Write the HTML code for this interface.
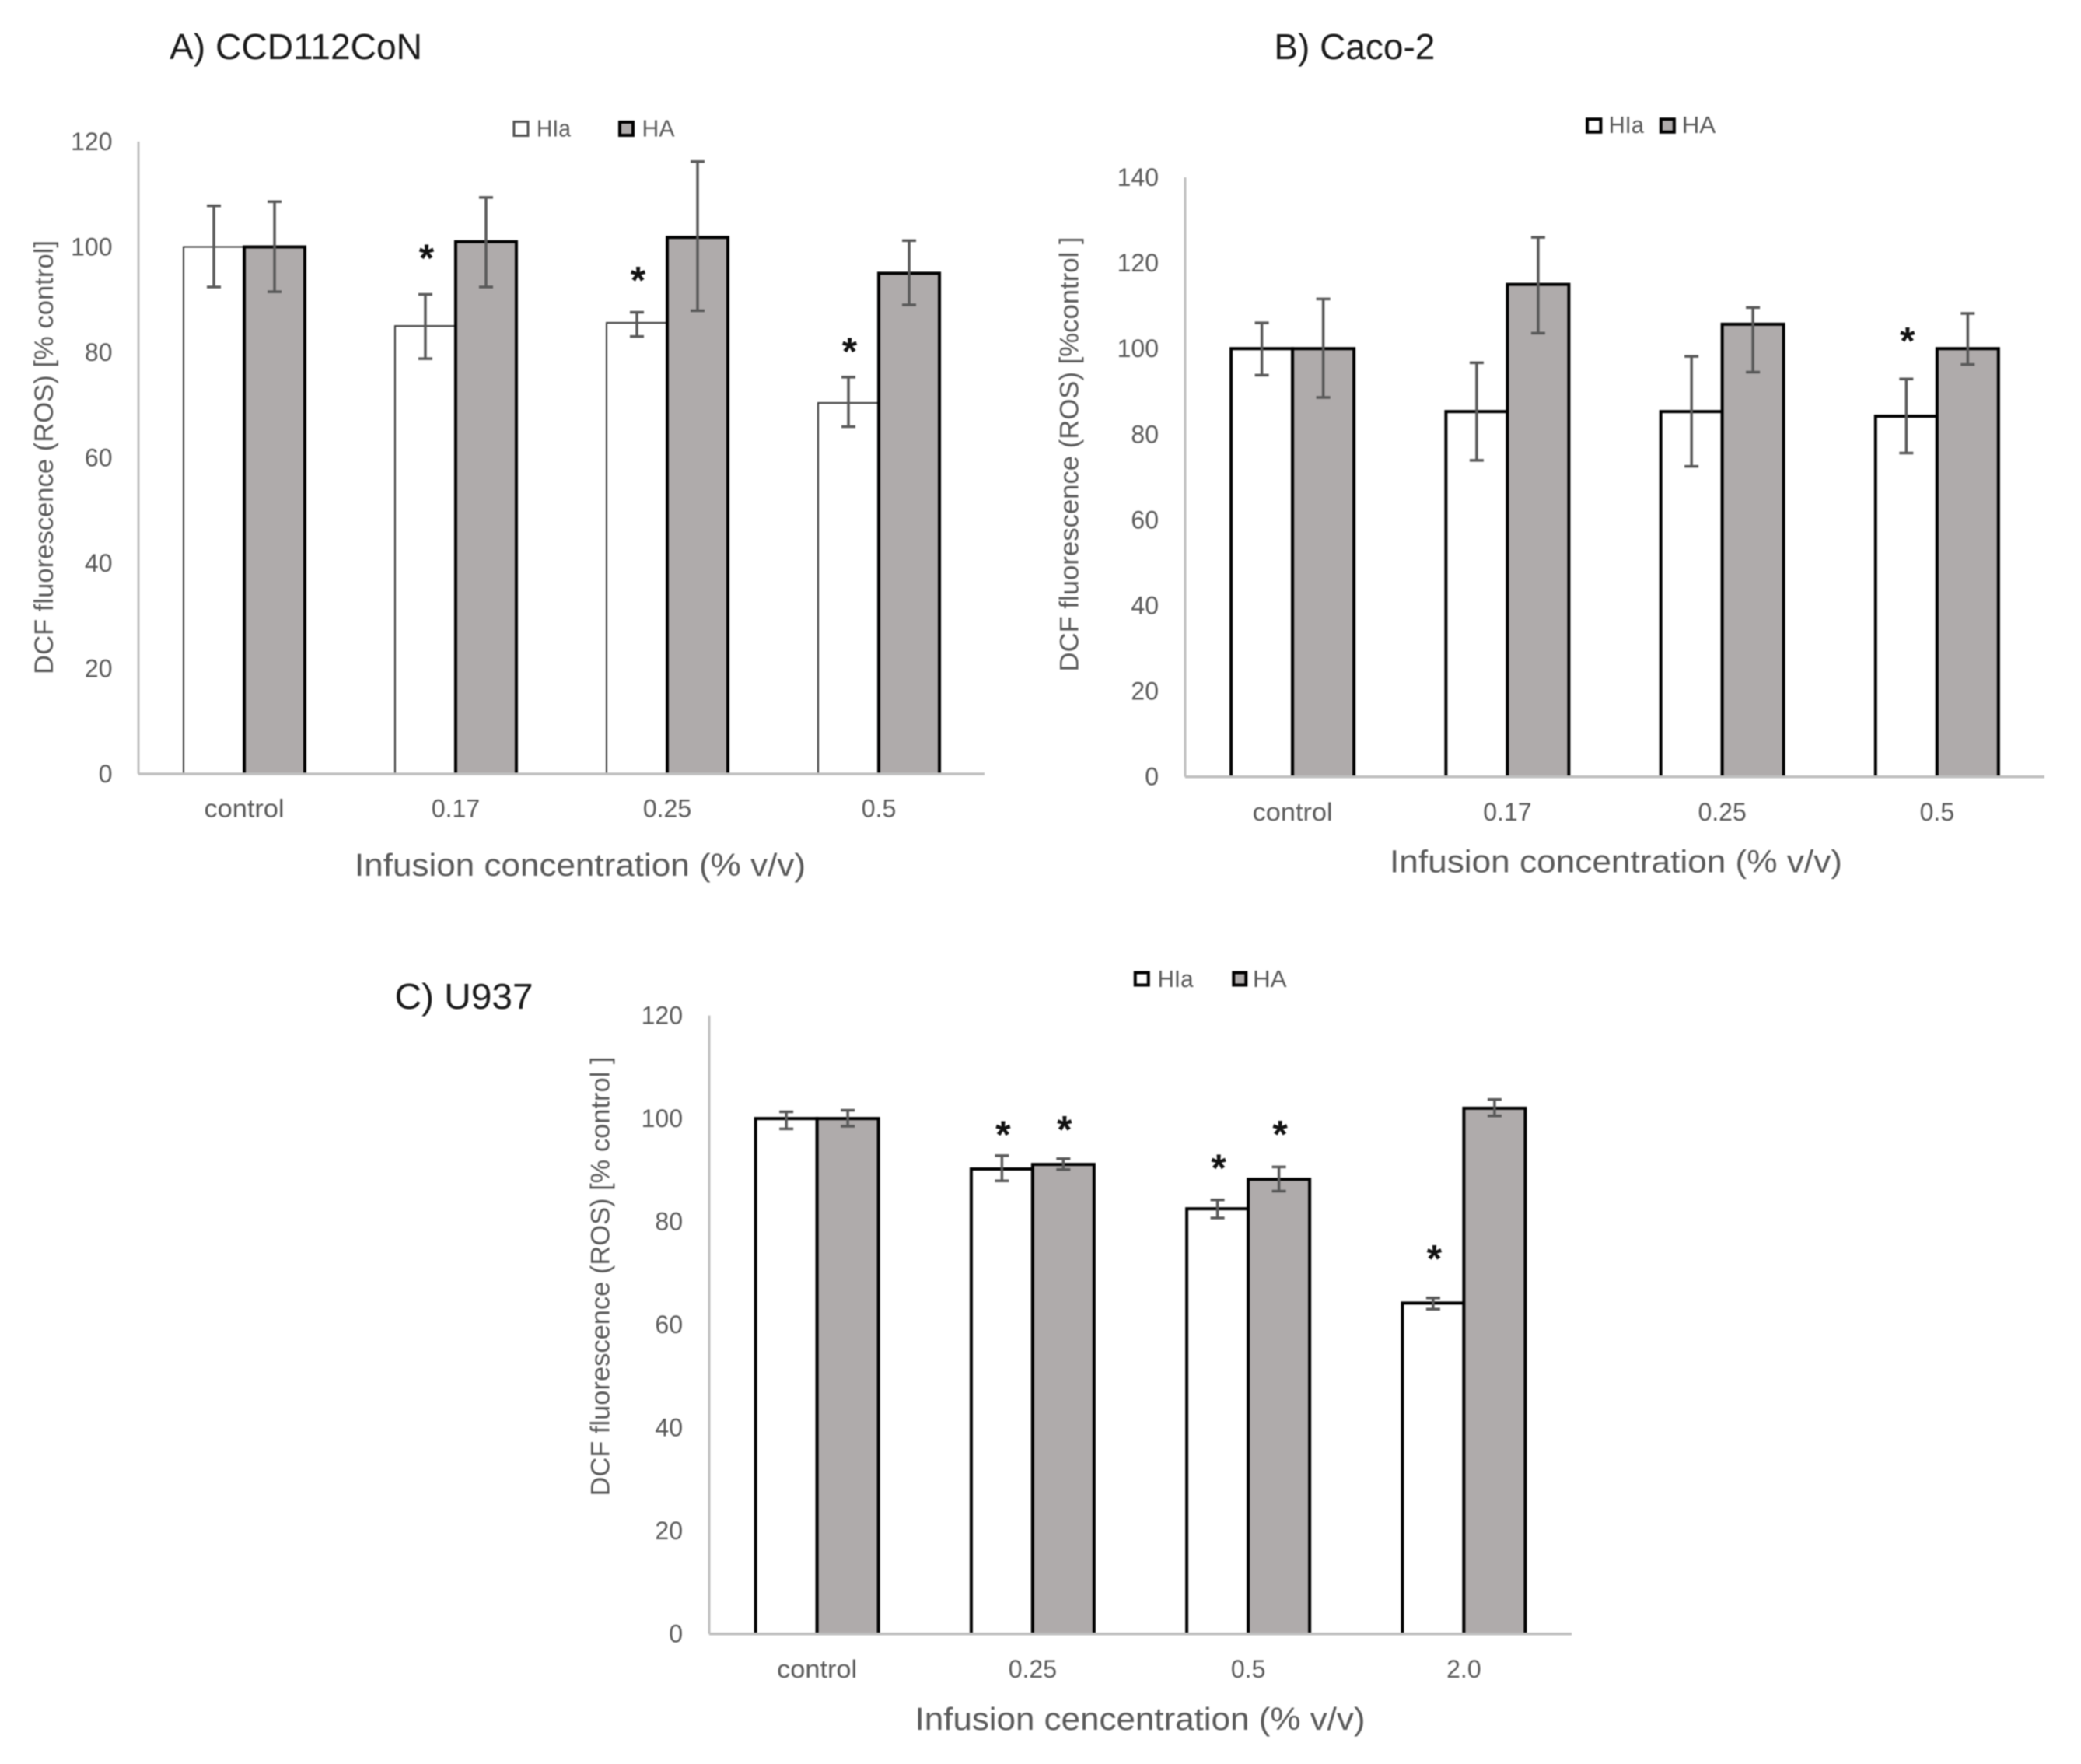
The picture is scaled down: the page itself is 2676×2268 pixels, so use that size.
<!DOCTYPE html>
<html lang="en">
<head>
<meta charset="utf-8">
<title>DCF fluorescence charts</title>
<style>
html,body{margin:0;padding:0;background:#fff;}
body{width:2676px;height:2268px;overflow:hidden;}
svg{display:block;filter:blur(0.8px);}
text{font-family:"Liberation Sans",sans-serif;fill:#595959;}
.panel-title{font-size:46px;fill:#1a1a1a;}
.axis-title{font-size:41px;}
.y-title{font-size:34px;}
.legend-text{font-size:31px;}
</style>
</head>
<body>
<svg id="figure" xmlns="http://www.w3.org/2000/svg" width="2676" height="2268" viewBox="0 0 2676 2268">
  <rect x="0" y="0" width="2676" height="2268" fill="#fff"/>

  <g id="chart-a">
    <text class="panel-title" x="218" y="76" textLength="325" lengthAdjust="spacingAndGlyphs">A) CCD112CoN</text>
    <text class="axis-title" x="746" y="1126" text-anchor="middle" textLength="580" lengthAdjust="spacingAndGlyphs">Infusion concentration (% v/v)</text>
    <text class="y-title" transform="translate(57,588) rotate(-90)" text-anchor="middle" dominant-baseline="central" textLength="558" lengthAdjust="spacingAndGlyphs">DCF fluorescence (ROS) [% control]</text>
    <g>
      <rect x="661" y="156.5" width="18" height="18" fill="#fff" stroke="#505050" stroke-width="3"/>
      <text class="legend-text" x="690" y="165" dominant-baseline="central" textLength="44" lengthAdjust="spacingAndGlyphs">HIa</text>
      <rect x="797" y="157" width="17" height="17" fill="#AFABAB" stroke="#000" stroke-width="4"/>
      <text class="legend-text" x="825.5" y="165" dominant-baseline="central" textLength="42" lengthAdjust="spacingAndGlyphs">HA</text>
    </g>
  </g>

  <g id="chart-b">
    <text class="panel-title" x="1638.4" y="76" textLength="207" lengthAdjust="spacingAndGlyphs">B) Caco-2</text>
    <text class="axis-title" x="2078" y="1121.5" text-anchor="middle" textLength="582" lengthAdjust="spacingAndGlyphs">Infusion concentration (% v/v)</text>
    <text class="y-title" transform="translate(1375.7,584) rotate(-90)" text-anchor="middle" dominant-baseline="central" textLength="559" lengthAdjust="spacingAndGlyphs">DCF fluorescence (ROS) [%control ]</text>
    <g>
      <rect x="2041" y="153.2" width="17.4" height="16.6" fill="#fff" stroke="#000" stroke-width="4"/>
      <text class="legend-text" x="2068.8" y="160.5" dominant-baseline="central" textLength="45" lengthAdjust="spacingAndGlyphs">HIa</text>
      <rect x="2135.8" y="153.2" width="17" height="16.6" fill="#AFABAB" stroke="#000" stroke-width="4"/>
      <text class="legend-text" x="2162.6" y="160.5" dominant-baseline="central" textLength="43.7" lengthAdjust="spacingAndGlyphs">HA</text>
    </g>
  </g>

  <g id="chart-c">
    <text class="panel-title" x="507.6" y="1297" textLength="178" lengthAdjust="spacingAndGlyphs">C) U937</text>
    <text class="axis-title" x="1466" y="2224" text-anchor="middle" textLength="579" lengthAdjust="spacingAndGlyphs">Infusion cencentration (% v/v)</text>
    <text class="y-title" transform="translate(772.7,1641) rotate(-90)" text-anchor="middle" dominant-baseline="central" textLength="565" lengthAdjust="spacingAndGlyphs">DCF fluorescence (ROS) [% control ]</text>
    <g>
      <rect x="1459.8" y="1250.5" width="17" height="16" fill="#fff" stroke="#000" stroke-width="4"/>
      <text class="legend-text" x="1488.6" y="1258.5" dominant-baseline="central" textLength="46" lengthAdjust="spacingAndGlyphs">HIa</text>
      <rect x="1586.3" y="1250.5" width="16" height="16" fill="#AFABAB" stroke="#000" stroke-width="4"/>
      <text class="legend-text" x="1611" y="1258.5" dominant-baseline="central" textLength="43.6" lengthAdjust="spacingAndGlyphs">HA</text>
    </g>
  </g>
</svg>

<script>
// ---- Chart A data ----
const categoriesA = ['control', '0.17', '0.25', '0.5'];
const ticksA = [0, 20, 40, 60, 80, 100, 120];
const hiaA = [100, 85, 85.6, 70.4];
const hiaHighA = [107.8, 91, 87.6, 75.3];
const hiaLowA = [92.4, 78.8, 83, 65.9];
const haA = [100, 101, 101.8, 95];
const haHighA = [108.6, 109.4, 116.2, 101.2];
const haLowA = [91.5, 92.4, 87.9, 89];
const hiaStarsA = [null, 98.6, 94.4, 80.9];
const haStarsA = [null, null, null, null];

// ---- Chart B data ----
const categoriesB = ['control', '0.17', '0.25', '0.5'];
const ticksB = [0, 20, 40, 60, 80, 100, 120, 140];
const hiaB = [100, 85.3, 85.3, 84.2];
const hiaHighB = [106, 96.7, 98.2, 92.9];
const hiaLowB = [93.8, 73.9, 72.5, 75.6];
const haB = [100, 115, 105.7, 100];
const haHighB = [111.6, 126, 109.6, 108.2];
const haLowB = [88.6, 103.6, 94.5, 96.3];
const hiaStarsB = [null, null, null, 102.7];
const haStarsB = [null, null, null, null];

// ---- Chart C data ----
const categoriesC = ['control', '0.25', '0.5', '2.0'];
const ticksC = [0, 20, 40, 60, 80, 100, 120];
const hiaC = [100, 90.2, 82.5, 64.2];
const hiaHighC = [101.3, 92.8, 84.2, 65.2];
const hiaLowC = [98, 87.9, 80.7, 63];
const haC = [100, 91.1, 88.2, 102];
const haHighC = [101.6, 92.2, 90.6, 103.7];
const haLowC = [98.5, 90.1, 85.9, 100.5];
const hiaStarsC = [null, 97.6, 91.1, 73.5];
const haStarsC = [null, 98.6, 97.7, null];

const SVG_NS = 'http://www.w3.org/2000/svg';

function mk(parent, tag, attrs, text) {
  const el = document.createElementNS(SVG_NS, tag);
  for (const k in attrs) el.setAttribute(k, attrs[k]);
  if (text !== undefined) el.textContent = text;
  parent.appendChild(el);
  return el;
}

function drawChart(cfg) {
  const root = document.getElementById(cfg.id);
  const yMax = cfg.ticks[cfg.ticks.length - 1];
  const yScale = v => cfg.base - (v / yMax) * (cfg.base - cfg.top);
  const band = (cfg.right - cfg.left) / cfg.categories.length;
  const xCenter = i => cfg.left + band * (i + 0.5);

  // Bars, drawn HIa first then HA so the shared edge is dark; no bottom edge
  const series = [
    { key: 'hia', vals: cfg.hia, hi: cfg.hiaHigh, lo: cfg.hiaLow, stars: cfg.hiaStars, fill: '#ffffff', stroke: cfg.hiaStroke, sw: cfg.hiaWidth, dir: -1 },
    { key: 'ha', vals: cfg.ha, hi: cfg.haHigh, lo: cfg.haLow, stars: cfg.haStars, fill: '#AFABAB', stroke: '#000000', sw: 4, dir: 0 }
  ];

  series.forEach(s => {
    s.vals.forEach((v, i) => {
      const x = xCenter(i) + s.dir * cfg.barWidth;
      const bar = mk(root, 'path', {
        d: 'M' + x + ' ' + cfg.base + 'V' + yScale(v) + 'H' + (x + cfg.barWidth) + 'V' + cfg.base,
        fill: s.fill, stroke: s.stroke, 'stroke-width': s.sw
      });
      
      
    });
  });

  // Axes
  const yAxis = mk(root, 'line', { x1: cfg.left, x2: cfg.left, y1: cfg.top, y2: cfg.base, stroke: '#BFBFBF', 'stroke-width': 3 });
  
  
  const xAxis = mk(root, 'line', { x1: cfg.left, x2: cfg.right, y1: cfg.base, y2: cfg.base, stroke: '#BFBFBF', 'stroke-width': 3.5 });
  
  

  // Error bars and significance stars
  series.forEach(s => {
    s.vals.forEach((v, i) => {
      const cx = xCenter(i) + (s.dir + 0.5) * cfg.barWidth;
      const err = mk(root, 'path', {
        d: 'M' + cx + ' ' + yScale(s.hi[i]) + 'V' + yScale(s.lo[i]) +
           'M' + (cx - 9) + ' ' + yScale(s.hi[i]) + 'H' + (cx + 9) +
           'M' + (cx - 9) + ' ' + yScale(s.lo[i]) + 'H' + (cx + 9),
        fill: 'none', stroke: '#595959', 'stroke-width': 3.5
      });
      
      
      if (s.stars[i] !== null) {
        const star = mk(root, 'text', {
          x: cx + 1.5, y: yScale(s.stars[i]) + 22, 'text-anchor': 'middle',
          style: 'font-size:50px;font-weight:bold;fill:#111'
        }, '*');
        
        
      }
    });
  });

  // Y tick labels
  cfg.ticks.forEach(t => {
    const label = mk(root, 'text', {
      x: cfg.tickX, y: yScale(t), 'text-anchor': 'end', 'dominant-baseline': 'central',
      style: 'font-size:32px'
    }, String(t));
    
    
  });

  // Category labels; the word label is set slightly wider than the numeric ones
  cfg.categories.forEach((c, i) => {
    const attrs = {
      x: xCenter(i), y: cfg.catY, 'text-anchor': 'middle', 'dominant-baseline': 'central',
      style: 'font-size:32px'
    };
    if (c === 'control') {
      attrs.textLength = 103;
      attrs.lengthAdjust = 'spacingAndGlyphs';
    }
    const label = mk(root, 'text', attrs, c);
    
    
  });
}

drawChart({
  id: 'chart-a', left: 178, right: 1266, top: 182, base: 995, barWidth: 78,
  tickX: 144.5, catY: 1039.5, hiaStroke: '#333333', hiaWidth: 2,
  categories: categoriesA, ticks: ticksA,
  hia: hiaA, hiaHigh: hiaHighA, hiaLow: hiaLowA, hiaStars: hiaStarsA,
  ha: haA, haHigh: haHighA, haLow: haLowA, haStars: haStarsA
});
drawChart({
  id: 'chart-b', left: 1524, right: 2629, top: 228, base: 998.7, barWidth: 79,
  tickX: 1490, catY: 1044.2, hiaStroke: '#000000', hiaWidth: 4,
  categories: categoriesB, ticks: ticksB,
  hia: hiaB, hiaHigh: hiaHighB, hiaLow: hiaLowB, hiaStars: hiaStarsB,
  ha: haB, haHigh: haHighB, haLow: haLowB, haStars: haStarsB
});
drawChart({
  id: 'chart-c', left: 912, right: 2021, top: 1305.6, base: 2100.7, barWidth: 79,
  tickX: 878, catY: 2145.8, hiaStroke: '#000000', hiaWidth: 4,
  categories: categoriesC, ticks: ticksC,
  hia: hiaC, hiaHigh: hiaHighC, hiaLow: hiaLowC, hiaStars: hiaStarsC,
  ha: haC, haHigh: haHighC, haLow: haLowC, haStars: haStarsC
});
</script>
</body>
</html>
